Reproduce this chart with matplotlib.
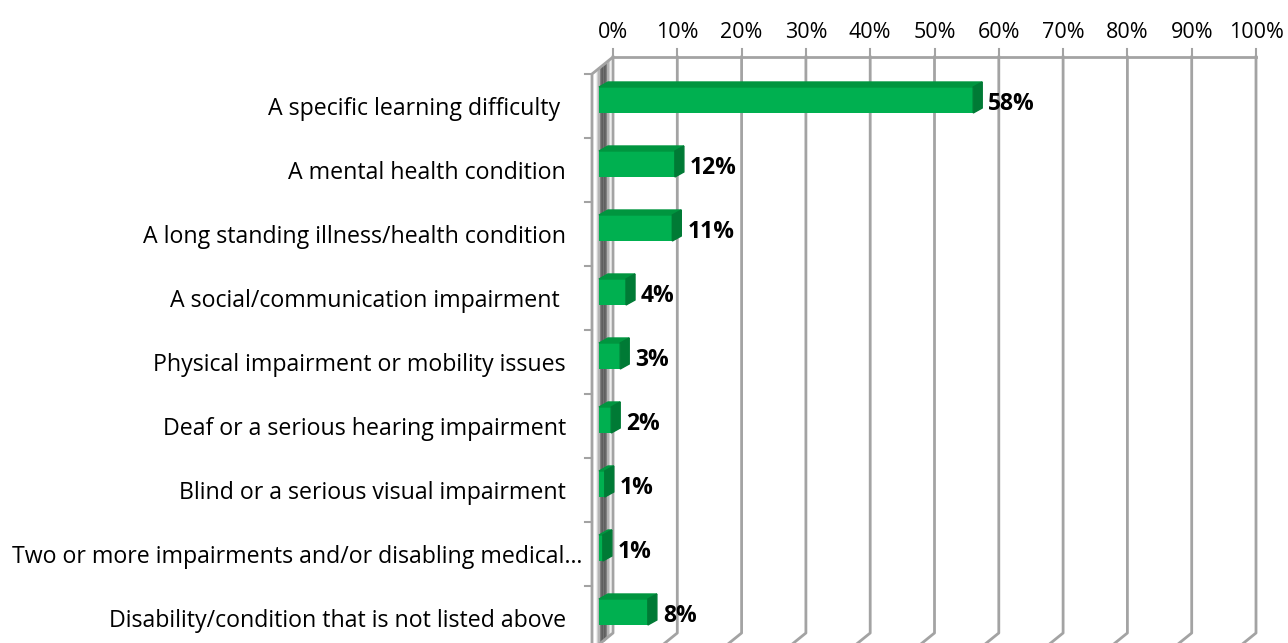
import numpy as np
import matplotlib
matplotlib.use("Agg")
import matplotlib.pyplot as plt
from matplotlib.patches import Polygon

plt.rcParams['font.family'] = ['Open Sans', 'DejaVu Sans']

# data
categories = [
    "A specific learning difficulty ",
    "A mental health condition",
    "A long standing illness/health condition",
    "A social/communication impairment ",
    "Physical impairment or mobility issues",
    "Deaf or a serious hearing impairment",
    "Blind or a serious visual impairment",
    "Two or more impairments and/or disabling medical\u2026",
    "Disability/condition that is not listed above",
]
values = [58.2, 11.8, 11.4, 4.2, 3.3, 1.9, 0.9, 0.6, 7.6]
ticks = list(range(0, 101, 10))
tick_labels = [f"{t}%" for t in ticks]

W, H = 1288, 643
fig = plt.figure(figsize=(W / 100, H / 100), dpi=100)
# front plane: x 0..100 -> px 592..1235, band tops start at px 74, 64 px per band
ax = fig.add_axes([592 / W, 1 - 650 / H, 643 / W, 576 / H])
ax.set_xlim(0, 100)
ax.set_ylim(8.5, -0.5)
ax.axis('off')

sx = 100 / 643   # data units per px (x)
sy = 1 / 64      # data units per px (y, downward)

wdx, wdy = 21 * sx, -17 * sy       # wall depth
bdx, bdy = 9 * sx, -5 * sy         # bar depth
fx, fy = 7 * sx, -6 * sy           # bar front face offset

grid_c = '#a3a3a3'
top_y = -0.5 + wdy
bot_y = 8.5 + wdy

# left wall shading (soft grey band)
prof = np.linspace(-1, 1, 25)
for k, a in zip(np.linspace(0.2, 0.85, 25), np.exp(-prof ** 2 * 2.5)):
    x = k * wdx
    ax.plot([x, x], [-0.5 + k * wdy, 8.5 + k * wdy], color='#555555', alpha=0.75 * a,
            lw=0.9, solid_capstyle='butt', clip_on=False, zorder=1)

# gridlines on back wall + floor diagonal
for t, lab in zip(ticks, tick_labels):
    ax.plot([t + wdx, t + wdx, t], [top_y, bot_y, 8.5], color=grid_c, lw=2,
            clip_on=False, zorder=2)
    ax.plot([t + wdx, t + wdx], [top_y, top_y - 8 * sy], color=grid_c, lw=1.5,
            clip_on=False, zorder=2)
    ax.text(t + wdx, top_y - 24 * sy, lab, ha='center', va='center',
            fontsize=15.5, color='#000000', clip_on=False)
ax.plot([wdx, 100 + wdx], [top_y, top_y], color=grid_c, lw=2, clip_on=False, zorder=2)
# left wall outline
ax.plot([0, 0, wdx], [8.5, -0.5, top_y], color=grid_c, lw=2, clip_on=False, zorder=2)
for k in range(9):
    ax.plot([0, -7 * sx], [-0.5 + k, -0.5 + k], color=grid_c, lw=1.5, clip_on=False, zorder=2)

# bars
ypos = np.arange(len(categories)) + fy
bh = 26 * sy
ax.barh(ypos, values, left=fx, height=bh, color='#00b050', zorder=5)
for y, v in zip(ypos, values):
    x1 = fx + v
    top = y - bh / 2
    bot = y + bh / 2
    ax.add_patch(Polygon([(fx, top), (x1, top), (x1 + bdx, top + bdy), (fx + bdx, top + bdy)],
                         closed=True, color='#00953f', zorder=5))
    ax.add_patch(Polygon([(x1, top), (x1, bot), (x1 + bdx, bot + bdy), (x1 + bdx, top + bdy)],
                         closed=True, color='#007a35', zorder=5))
    ax.text(x1 + 15 * sx, y + 4 * sy, f"{round(v)}%", ha='left', va='center',
            fontsize=16.5, fontweight='bold', color='#000000', zorder=6)

# category labels
for i, c in enumerate(categories):
    right = -9 * sx if c.endswith('\u2026') else -26 * sx
    ax.text(right, i + 3 * sy, c, ha='right', va='center', fontsize=16.7,
            color='#000000', clip_on=False)

fig.savefig('out.png', dpi=100)
